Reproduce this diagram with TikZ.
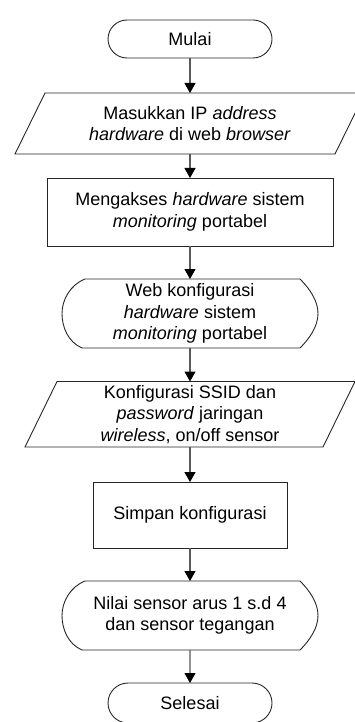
\documentclass[tikz,border=0pt]{standalone}
\usepackage{fontspec}
\setmainfont{Liberation Sans}
\usetikzlibrary{arrows.meta,shapes.misc}
\begin{document}
\begin{tikzpicture}[x=1pt,y=-1pt,
  font=\fontsize{18}{21.5}\selectfont,
  outline/.style={draw=black!85,line width=0.9pt},
  txt/.style={draw=none,inner sep=0pt,outer sep=0pt,align=center},
  term/.style={outline,rounded rectangle,inner sep=0pt,outer sep=0pt,minimum width=164pt,minimum height=38pt},
  procbox/.style={outline,rectangle,inner sep=0pt,outer sep=0pt,align=center},
  arr/.style={draw=black!65,line width=1.1pt,-{Triangle[width=11pt,length=10pt,color=black]}}]
\useasboundingbox (0,0) rectangle (355,722);
\clip (0,0) rectangle (355,722);
% terminators
\node[term] (start) at (190,39) {Mulai};
% input 1
\draw[outline] (45,93) -- (365,93) -- (335,154) -- (15,154) -- cycle;
\node[txt,minimum width=290pt,minimum height=61pt] (in1) at (190,123.5)
  {Masukkan IP \textit{address}\\\textit{hardware} di web \textit{browser}};
% process 1
\node[procbox,minimum width=286pt,minimum height=68pt] (p1) at (190,212)
  {Mengakses \textit{hardware} sistem\\\textit{monitoring} portabel};
% display 1
\draw[outline] (85,279) -- (300,279) .. controls (310,289) and (318,301) .. (318,313.5)
  .. controls (318,326) and (310,338) .. (300,348) -- (82,348)
  .. controls (68,342) and (62,327) .. (62,313.5) .. controls (62,300) and (70,285) .. (85,279) -- cycle;
\node[txt,minimum width=230pt,minimum height=69pt] (d1) at (190,313.5)
  {Web konfigurasi\\\textit{hardware} sistem\\\textit{monitoring} portabel};
% input 2
\draw[outline] (57,381.5) -- (355,381.5) -- (323,447) -- (25,447) -- cycle;
\node[txt,minimum width=270pt,minimum height=65.5pt] (in2) at (190,414.25)
  {Konfigurasi SSID dan\\\textit{password} jaringan\\\textit{wireless}, on/off sensor};
% process 2
\node[procbox,minimum width=194pt,minimum height=66pt] (p2) at (190,515)
  {Simpan konfigurasi};
% display 2
\draw[outline] (85,581) -- (300,581) .. controls (310,591) and (318,603) .. (318,615.5)
  .. controls (318,628) and (310,640) .. (300,650) -- (82,650)
  .. controls (68,644) and (62,629) .. (62,615.5) .. controls (62,602) and (70,587) .. (85,581) -- cycle;
\node[txt,minimum width=230pt,minimum height=69pt] (d2) at (190,615.5)
  {Nilai sensor arus 1 s.d 4\\dan sensor tegangan};
% end
\node[term,minimum height=40pt] (stop) at (190,703) {Selesai};
% connectors
\draw[arr] (start) -- (in1);
\draw[arr] (in1) -- (p1);
\draw[arr] (p1) -- (d1);
\draw[arr] (d1) -- (in2);
\draw[arr] (in2) -- (p2);
\draw[arr] (p2) -- (d2);
\draw[arr] (d2) -- (stop);
\end{tikzpicture}
\end{document}
